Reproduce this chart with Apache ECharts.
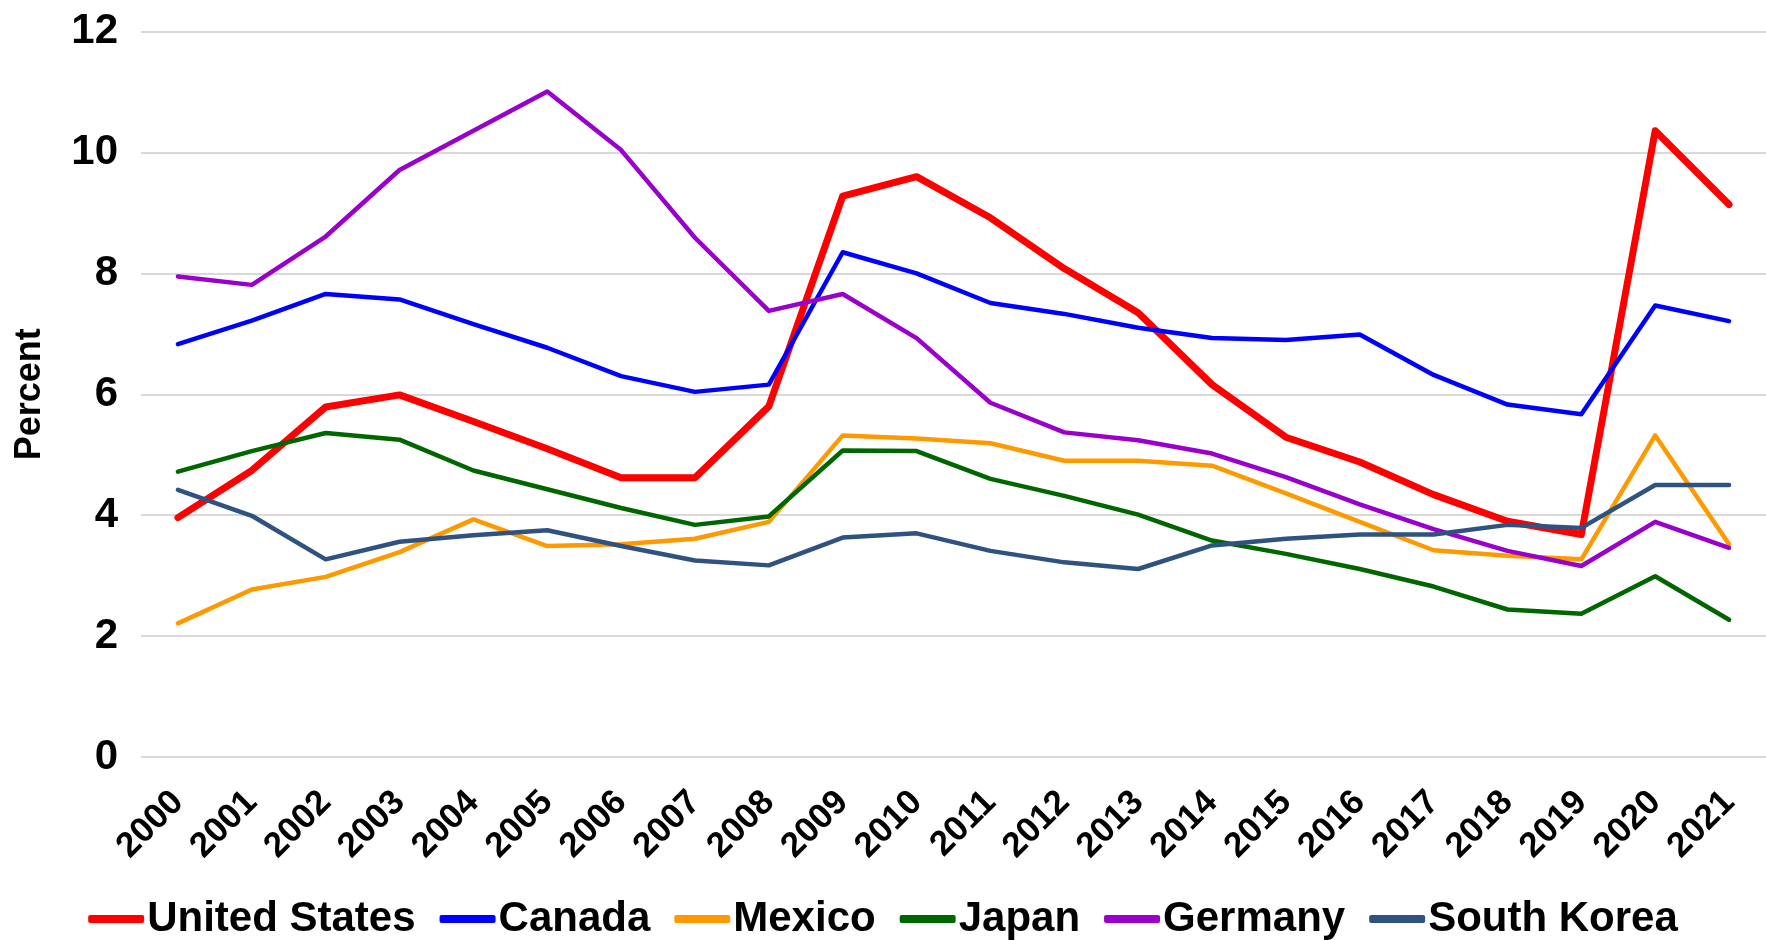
<!DOCTYPE html>
<html>
<head>
<meta charset="utf-8">
<script src="https://cdn.jsdelivr.net/npm/echarts@6/dist/echarts.min.js"></script>
<style>
  html, body { margin: 0; padding: 0; background: #ffffff; }
  #chart { width: 1766px; height: 940px; }
</style>
</head>
<body>
<div id="chart"></div>
<script>
// Years on the category axis
const years = ['2000','2001','2002','2003','2004','2005','2006','2007','2008','2009','2010',
               '2011','2012','2013','2014','2015','2016','2017','2018','2019','2020','2021'];

// Unemployment rate, percent
const unitedStates = [3.96, 4.74, 5.79, 5.99, 5.55, 5.10, 4.62, 4.62, 5.80, 9.28, 9.60,
                      8.92, 8.08, 7.35, 6.16, 5.29, 4.88, 4.34, 3.90, 3.68, 10.36, 9.14];
const canada       = [6.83, 7.22, 7.66, 7.57, 7.16, 6.77, 6.30, 6.04, 6.16, 8.35, 8.00,
                      7.51, 7.33, 7.10, 6.93, 6.90, 6.99, 6.32, 5.83, 5.67, 7.47, 7.21];
const mexico       = [2.21, 2.77, 2.98, 3.39, 3.93, 3.49, 3.52, 3.61, 3.89, 5.32, 5.27,
                      5.19, 4.90, 4.90, 4.82, 4.36, 3.89, 3.42, 3.33, 3.27, 5.32, 3.52];
const japan        = [4.72, 5.06, 5.36, 5.25, 4.74, 4.43, 4.12, 3.84, 3.98, 5.07, 5.06,
                      4.60, 4.32, 4.01, 3.58, 3.36, 3.11, 2.82, 2.44, 2.37, 2.99, 2.27];
const germany      = [7.95, 7.81, 8.61, 9.71, 10.36, 11.01, 10.04, 8.59, 7.38, 7.66, 6.93,
                      5.86, 5.37, 5.24, 5.02, 4.63, 4.18, 3.77, 3.41, 3.16, 3.89, 3.46];
const southKorea   = [4.42, 3.99, 3.27, 3.56, 3.67, 3.75, 3.49, 3.25, 3.17, 3.63, 3.70,
                      3.41, 3.22, 3.11, 3.50, 3.61, 3.68, 3.68, 3.84, 3.79, 4.50, 4.50];

// Y-axis ticks
const yTicks = [0, 2, 4, 6, 8, 10, 12];

const seriesDefs = [
  { name: 'United States', data: unitedStates, color: '#FF0000', width: 7 },
  { name: 'Canada',        data: canada,       color: '#0000FF', width: 4.5 },
  { name: 'Mexico',        data: mexico,       color: '#FF9900', width: 4.5 },
  { name: 'Japan',         data: japan,        color: '#006600', width: 4.5 },
  { name: 'Germany',       data: germany,      color: '#9900CC', width: 4.5 },
  { name: 'South Korea',   data: southKorea,   color: '#2F5280', width: 4.5 }
];

const FONT = '"Liberation Sans", Arial, sans-serif';

const chart = echarts.init(document.getElementById('chart'), null, { renderer: 'canvas' });

chart.setOption({
  animation: false,
  backgroundColor: '#ffffff',
  grid: { left: 141, right: 0, top: 31.6, bottom: 183, containLabel: false, outerBoundsMode: 'none' },
  legend: {
    left: 'center',
    top: 893,
    itemGap: 24,
    itemWidth: 56,
    itemHeight: 8,
    icon: 'roundRect',
    textStyle: { fontFamily: FONT, fontWeight: 'bold', fontSize: 42, color: '#000000', padding: [0, 0, 0, -2] },
    data: seriesDefs.map(s => ({ name: s.name, itemStyle: { color: s.color } }))
  },
  xAxis: {
    type: 'category',
    data: years,
    boundaryGap: true,
    axisLine: { show: false },
    axisTick: { show: false },
    axisLabel: {
      interval: 0,
      rotate: 45,
      margin: 40,
      fontFamily: FONT,
      fontWeight: 'bold',
      fontSize: 35,
      color: '#000000'
    }
  },
  yAxis: {
    type: 'value',
    min: yTicks[0],
    max: yTicks[yTicks.length - 1],
    interval: 2,
    name: 'Percent',
    nameLocation: 'middle',
    nameGap: 93,
    nameRotate: 90,
    nameTextStyle: { fontFamily: FONT, fontWeight: 'bold', fontSize: 36, color: '#000000' },
    axisLine: { show: false },
    axisTick: { show: false },
    splitLine: { lineStyle: { color: '#D9D9D9', width: 2 } },
    axisLabel: {
      margin: 23,
      fontFamily: FONT,
      fontWeight: 'bold',
      fontSize: 42,
      color: '#000000'
    }
  },
  series: seriesDefs.map(s => ({
    name: s.name,
    type: 'line',
    data: s.data,
    showSymbol: false,
    symbol: 'none',
    color: s.color,
    lineStyle: { color: s.color, width: s.width, cap: 'round', join: 'round' },
    emphasis: { disabled: true }
  }))
});
</script>
</body>
</html>
